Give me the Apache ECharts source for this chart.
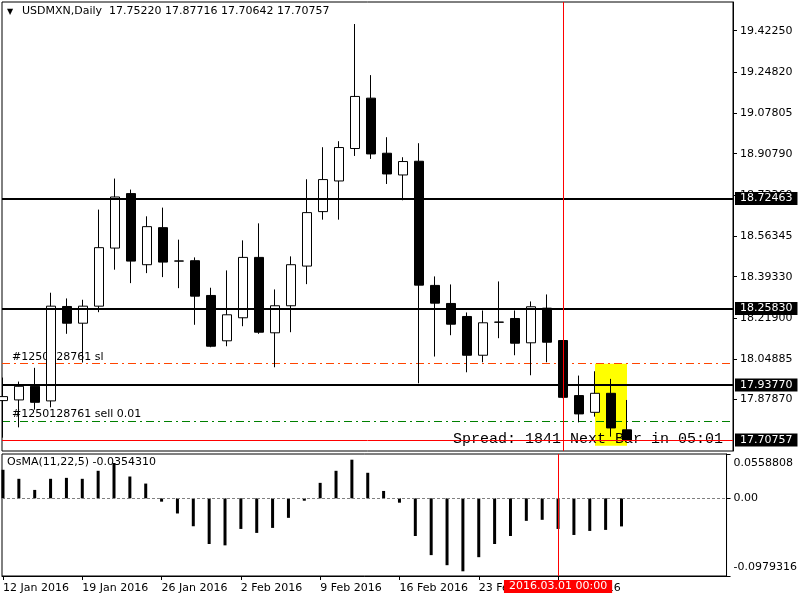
<!DOCTYPE html>
<html>
<head>
<meta charset="utf-8">
<script src="https://cdn.jsdelivr.net/npm/echarts@6/dist/echarts.min.js"></script>
<style>
  html, body { margin: 0; padding: 0; background: #fff; }
  #chart { width: 800px; height: 600px; }
</style>
</head>
<body>
<div id="chart"></div>
<script>
// daily bars, USDMXN
var dates = ['2016.01.12', '2016.01.13', '2016.01.14', '2016.01.15', '2016.01.18', '2016.01.19', '2016.01.20', '2016.01.21', '2016.01.22',
  '2016.01.25', '2016.01.26', '2016.01.27', '2016.01.28', '2016.01.29', '2016.02.01', '2016.02.02', '2016.02.03', '2016.02.04', '2016.02.05',
  '2016.02.08', '2016.02.09', '2016.02.10', '2016.02.11', '2016.02.12', '2016.02.15', '2016.02.16', '2016.02.17', '2016.02.18', '2016.02.19',
  '2016.02.22', '2016.02.23', '2016.02.24', '2016.02.25', '2016.02.26', '2016.02.29', '2016.03.01', '2016.03.02', '2016.03.03', '2016.03.04',
  '2016.03.07'];
var open = [17.8745, 17.8774, 17.9344, 17.8733, 18.2685, 18.1985, 18.2698, 18.5129, 18.7409, 18.4433,
  18.5984, 18.4590, 18.4601, 18.3146, 18.1248, 18.2212, 18.4739, 18.1583, 18.2715, 18.4375,
  18.6655, 18.7938, 18.9296, 19.1404, 18.9099, 18.8189, 18.8763, 18.3566, 18.2811, 18.2266,
  18.0644, 18.2030, 18.2182, 18.1164, 18.2614, 18.1260, 17.8955, 17.8255, 17.9051, 17.75220];
var close = [17.8913, 17.9344, 17.8674, 18.2698, 18.1985, 18.2698, 18.5146, 18.7267, 18.4584, 18.6026,
  18.4542, 18.4584, 18.3117, 18.1021, 18.2337, 18.4739, 18.1608, 18.2715, 18.4433, 18.6613,
  18.7996, 18.9337, 19.1475, 18.9069, 18.8231, 18.8751, 18.3578, 18.2824, 18.1943, 18.0644,
  18.2002, 18.2027, 18.1147, 18.2673, 18.1189, 17.8883, 17.8188, 17.9051, 17.7601, 17.70757];
var low = [17.7194, 17.7626, 17.8368, 17.8464, 18.1541, 18.0338, 18.2446, 18.4224, 18.3662, 18.4081,
  18.3914, 18.3452, 18.1918, 18.0979, 18.1021, 18.1859, 18.1541, 18.0141, 18.1608, 18.3620,
  18.6319, 18.6319, 18.8985, 18.8860, 18.7812, 18.7129, 17.9470, 18.0589, 18.1482, 17.9931,
  18.0351, 18.1357, 18.0644, 17.9806, 18.0351, 17.8850, 17.7835, 17.8074, 17.7236, 17.70642];
var high = [17.9709, 17.9542, 18.0116, 18.3260, 18.3021, 18.2966, 18.6739, 18.8038, 18.7577, 18.6458,
  18.6822, 18.5481, 18.4739, 18.3469, 18.4194, 18.5452, 18.6164, 18.3398, 18.4781, 18.8009,
  18.9350, 18.9602, 19.4506, 19.2368, 18.9769, 18.8931, 18.9518, 18.3943, 18.3607, 18.2434,
  18.2518, 18.3733, 18.2518, 18.2895, 18.3188, 18.1260, 17.9793, 17.9973, 17.9655, 17.87716];
// OsMA(11,22,5)
var osma = [0.0360, 0.0246, 0.0106, 0.0246, 0.0258, 0.0246, 0.0347, 0.0445, 0.0275, 0.0186,
  -0.0042, -0.0191, -0.0352, -0.0576, -0.0593, -0.0386, -0.0436, -0.0373, -0.0246, -0.0030,
  0.0195, 0.0347, 0.0487, 0.0322, 0.0093, -0.0055, -0.0475, -0.0716, -0.0843, -0.0920,
  -0.0742, -0.0576, -0.0475, -0.0284, -0.0271, -0.0386, -0.0462, -0.0411, -0.0398, -0.0354310];

var xTickIdx = [0, 5, 10, 15, 20, 25, 30, 35];
var xTickLabels = ['12 Jan 2016', '19 Jan 2016', '26 Jan 2016', '2 Feb 2016', '9 Feb 2016', '16 Feb 2016', '23 Feb 2016', '1 Mar 2016'];
var priceTicks = [19.42250, 19.24820, 19.07805, 18.90790, 18.73360, 18.56345, 18.39330, 18.21900, 18.04885, 17.87870];
var osmaTicks = [-0.0979316, 0, 0.0558808];
var levels = [18.72463, 18.25830, 17.93770];
var bid = 17.70757;
var slLevel = 18.0283;
var entryLevel = 17.7936;
var boxIdx = [37, 39];
var boxPrice = [18.0283, 17.6860];
var sepIdx = 35;

var priceMin = 17.6636, priceMax = 19.5428;
var xMin = -0.0625, xMax = 45.625;
var font = 'DejaVu Sans';

var chart = echarts.init(document.getElementById('chart'));

var candles = dates.map(function (d, i) {
  return [i, open[i], close[i], low[i], high[i]];
});
var bars = osma.map(function (v, i) {
  return [i, v];
});

var levelLines = levels.map(function (v) {
  return { yAxis: v, label: { formatter: v.toFixed(5) } };
});
// bid line is thin red, but keeps the black price box
levelLines.push({ yAxis: bid, lineStyle: { color: '#ff0000', width: 1 }, label: { formatter: bid.toFixed(5) } });

var option = {
  animation: false,
  backgroundColor: '#fff',
  textStyle: { fontFamily: font },
  grid: [
    { left: 2, top: 2, width: 731, height: 449, show: true, borderColor: '#000', borderWidth: 1 },
    { left: 2, top: 454, width: 731, height: 122, show: true, borderColor: '#000', borderWidth: 1 }
  ],
  xAxis: [{
      type: 'value', gridIndex: 0, min: xMin, max: xMax,
      axisLine: { show: false }, axisTick: { show: false },
      axisLabel: { show: false }, splitLine: { show: false }
    },
    {
      type: 'value', gridIndex: 1, min: xMin, max: xMax, position: 'bottom',
      axisLine: { show: true, onZero: false, lineStyle: { color: '#000' } },
      axisTick: { show: true, customValues: xTickIdx, length: 4, lineStyle: { color: '#000' } },
      axisLabel: {
        customValues: xTickIdx,
        formatter: function (v) { return xTickLabels[xTickIdx.indexOf(v)]; },
        align: 'left', margin: 7, color: '#000', fontSize: 11, fontFamily: font
      },
      splitLine: { show: false }
    }
  ],
  yAxis: [{
      type: 'value', gridIndex: 0, position: 'right', min: priceMin, max: priceMax,
      axisLine: { show: true, onZero: false, lineStyle: { color: '#000' } },
      axisTick: { show: true, customValues: priceTicks, length: 4, lineStyle: { color: '#000' } },
      axisLabel: {
        customValues: priceTicks,
        formatter: function (v) { return v.toFixed(5); },
        margin: 7, color: '#000', fontSize: 11, fontFamily: font
      },
      splitLine: { show: false }
    },
    {
      type: 'value', gridIndex: 1, position: 'right', min: osmaTicks[0], max: osmaTicks[2],
      axisLine: { show: true, onZero: false, lineStyle: { color: '#000' } },
      axisTick: { show: true, customValues: osmaTicks, length: 4, lineStyle: { color: '#000' } },
      axisLabel: {
        customValues: osmaTicks,
        formatter: function (v) { return v === 0 ? '0.00' : v.toFixed(7); },
        verticalAlignMinLabel: 'bottom', verticalAlignMaxLabel: 'top',
        lineHeight: 18,
        margin: 7, color: '#000', fontSize: 11, fontFamily: font
      },
      splitLine: { show: false }
    }
  ],
  graphic: [
    { type: 'text', left: 7, top: 8, z: 5, style: { text: '▼', font: '8px "DejaVu Sans"', fill: '#000' } },
    { type: 'text', left: 22, top: 6, z: 5, style: { text: 'USDMXN,Daily  17.75220 17.87716 17.70642 17.70757', font: '11px "DejaVu Sans"', fill: '#000' } },
    { type: 'text', left: 7, top: 457, z: 1, style: { text: 'OsMA(11,22,5) -0.0354310', font: '11px "DejaVu Sans"', fill: '#000' } },
    { type: 'text', right: 77, top: 432, z: 1, style: { text: 'Spread: 1841 Next Bar in 05:01', font: '15px "Liberation Mono"', fill: '#000' } }
  ],
  series: [{
      // trade levels and highlight, drawn behind the bars
      type: 'line', xAxisIndex: 0, yAxisIndex: 0, z: 0, data: [],
      markArea: {
        silent: true, z: 0,
        itemStyle: { color: '#ffff00' },
        data: [[{ coord: [boxIdx[0], boxPrice[0]] }, { coord: [boxIdx[1], boxPrice[1]] }]]
      },
      markLine: {
        silent: true, z: 1, symbol: ['none', 'none'],
        data: [
          { yAxis: slLevel, lineStyle: { color: '#ff4500', width: 1, type: [8, 4, 2, 4] },
            label: { show: true, position: 'insideStartTop', distance: [10, 1], formatter: '#1250128761 sl', color: '#000', fontSize: 11, fontFamily: font } },
          { yAxis: entryLevel, lineStyle: { color: '#008000', width: 1, type: [8, 4, 2, 4] },
            label: { show: true, position: 'insideStartTop', distance: [10, 1], formatter: '#1250128761 sell 0.01', color: '#000', fontSize: 11, fontFamily: font } }
        ]
      }
    },
    {
      type: 'candlestick', xAxisIndex: 0, yAxisIndex: 0, z: 2,
      barWidth: 10,
      itemStyle: {
        color: '#fff', color0: '#000',
        borderColor: '#000', borderColor0: '#000', borderColorDoji: '#000',
        borderWidth: 1
      },
      data: candles
    },
    {
      // horizontal levels with price boxes
      type: 'line', xAxisIndex: 0, yAxisIndex: 0, z: 3, data: [],
      markLine: {
        silent: true, symbol: ['none', 'none'],
        lineStyle: { color: '#000', width: 2, type: 'solid' },
        label: {
          show: true, position: 'end', distance: 2,
          backgroundColor: '#000', color: '#fff', fontSize: 11, fontFamily: font,
          padding: [1, 5, 0, 5], lineHeight: 12
        },
        data: levelLines
      }
    },
    {
      type: 'line', xAxisIndex: 0, yAxisIndex: 0, z: 3, data: [],
      markLine: {
        silent: true, symbol: ['none', 'none'],
        lineStyle: { color: '#ff0000', width: 1, type: 'solid' },
        label: { show: false },
        data: [{ xAxis: sepIdx }]
      }
    },
    {
      type: 'bar', xAxisIndex: 1, yAxisIndex: 1, z: 2,
      barWidth: 3,
      itemStyle: { color: '#000' },
      data: bars,
      markLine: {
        silent: true, symbol: ['none', 'none'],
        data: [
          { yAxis: 0, lineStyle: { color: '#808080', width: 1, type: [3, 2] }, label: { show: false } },
          [
            { coord: [sepIdx, osmaTicks[0]], lineStyle: { color: '#ff0000', width: 1, type: 'solid' },
              label: { show: true, position: 'start', distance: 4, formatter: dates[sepIdx] + ' 00:00',
                backgroundColor: '#ff0000', color: '#fff', fontSize: 11, fontFamily: font, padding: [1, 5, 1, 5] } },
            { coord: [sepIdx, osmaTicks[2]] }
          ]
        ]
      }
    }
  ]
};

chart.setOption(option);
</script>
</body>
</html>
